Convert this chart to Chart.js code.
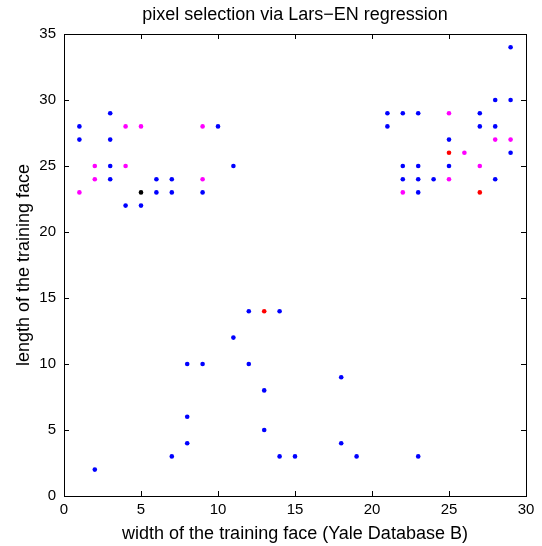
<!DOCTYPE html>
<html>
<head>
<meta charset="utf-8">
<script src="https://cdn.jsdelivr.net/npm/chart.js@4.4.0/dist/chart.umd.min.js"></script>
<style>
  html, body { margin: 0; padding: 0; background: #fff; }
</style>
</head>
<body>
<canvas id="myChart" width="542" height="546"></canvas>
<script>
const xTicks = [0, 5, 10, 15, 20, 25, 30];
const yTicks = [0, 5, 10, 15, 20, 25, 30, 35];

// [x, y] pixel positions, grouped by marker colour
const bluePoints = [
  [1, 28], [1, 27], [2, 2], [3, 29], [3, 27], [3, 25], [3, 24], [4, 22], [5, 22],
  [6, 24], [6, 23], [7, 24], [7, 23], [7, 3], [8, 10], [8, 6], [8, 4], [9, 23],
  [9, 10], [10, 28], [11, 25], [11, 12], [12, 14], [12, 10], [13, 8], [13, 5],
  [14, 14], [14, 3], [15, 3], [18, 9], [18, 4], [19, 3], [21, 29], [21, 28],
  [22, 29], [22, 25], [22, 24], [23, 29], [23, 25], [23, 24], [23, 23], [23, 3],
  [24, 24], [25, 27], [25, 25], [27, 29], [27, 28], [28, 30], [28, 28], [28, 24],
  [29, 34], [29, 30], [29, 26]
];
const magentaPoints = [
  [1, 23], [2, 25], [2, 24], [4, 28], [4, 25], [5, 28], [9, 28], [9, 24],
  [22, 23], [25, 29], [25, 24], [26, 26], [27, 25], [28, 27], [29, 27]
];
const redPoints = [[13, 14], [25, 26], [27, 23]];
const blackPoints = [[5, 23]];

const toXY = arr => arr.map(p => ({ x: p[0], y: p[1] }));

function dotSet(points, color) {
  return {
    data: toXY(points),
    backgroundColor: color,
    borderWidth: 0,
    pointRadius: 2.3,
    pointHoverRadius: 2.3
  };
}

// MATLAB style box with ticks pointing inward
const boxPlugin = {
  id: 'boxTicks',
  afterLayout(chart) {
    // centre the title over the axes, not the whole canvas
    if (chart.titleBlock) {
      chart.titleBlock.left = chart.chartArea.left;
      chart.titleBlock.right = chart.chartArea.right;
    }
  },
  afterDraw(chart) {
    const ctx = chart.ctx;
    const a = chart.chartArea;
    const xs = chart.scales.x, ys = chart.scales.y;
    const len = 5;
    ctx.save();
    ctx.strokeStyle = '#000';
    ctx.lineWidth = 1;
    ctx.beginPath();
    xTicks.forEach(v => {
      const px = Math.round(xs.getPixelForValue(v)) + 0.5;
      ctx.moveTo(px, a.bottom); ctx.lineTo(px, a.bottom - len);
      ctx.moveTo(px, a.top); ctx.lineTo(px, a.top + len);
    });
    yTicks.forEach(v => {
      const py = Math.round(ys.getPixelForValue(v)) + 0.5;
      ctx.moveTo(a.left, py); ctx.lineTo(a.left + len, py);
      ctx.moveTo(a.right, py); ctx.lineTo(a.right - len, py);
    });
    ctx.stroke();
    ctx.strokeRect(Math.round(a.left) + 0.5, Math.round(a.top) + 0.5,
      Math.round(a.right - a.left), Math.round(a.bottom - a.top));
    ctx.restore();
  }
};

Chart.defaults.color = '#000';
Chart.defaults.font.family = '"Liberation Sans", Arial, Helvetica, sans-serif';
Chart.defaults.font.size = 15;

new Chart(document.getElementById('myChart').getContext('2d'), {
  type: 'scatter',
  data: {
    datasets: [
      dotSet(bluePoints, '#0000ff'),
      dotSet(magentaPoints, '#ff00ff'),
      dotSet(redPoints, '#ff0000'),
      dotSet(blackPoints, '#000000')
    ]
  },
  options: {
    responsive: false,
    animation: false,
    devicePixelRatio: 1,
    layout: { padding: { left: 0, right: 16, top: 0, bottom: 0 } },
    plugins: {
      legend: { display: false },
      tooltip: { enabled: false },
      title: {
        display: true,
        text: 'pixel selection via Lars\u2212EN regression',
        font: { size: 18, weight: 'normal', lineHeight: 1.2 },
        padding: { top: 4, bottom: 8.4 }
      }
    },
    scales: {
      x: {
        type: 'linear',
        min: 0,
        max: 30,
        afterFit(scale) { scale.height = 50; },
        ticks: { stepSize: 5, padding: 5, maxRotation: 0, font: { size: 15 } },
        grid: { display: false, drawTicks: false },
        border: { display: false },
        title: {
          display: true,
          text: 'width of the training face (Yale Database B)',
          font: { size: 18, lineHeight: 1.2 },
          padding: { top: 0, bottom: 1 }
        }
      },
      y: {
        type: 'linear',
        min: 0,
        max: 35,
        afterFit(scale) { scale.width = 64; },
        ticks: { stepSize: 5, padding: 8, font: { size: 15 } },
        grid: { display: false, drawTicks: false },
        border: { display: false },
        title: {
          display: true,
          text: 'length of the training face',
          font: { size: 18, lineHeight: 1.2 },
          padding: { top: 13, bottom: 0 }
        }
      }
    }
  },
  plugins: [boxPlugin]
});
</script>
</body>
</html>
